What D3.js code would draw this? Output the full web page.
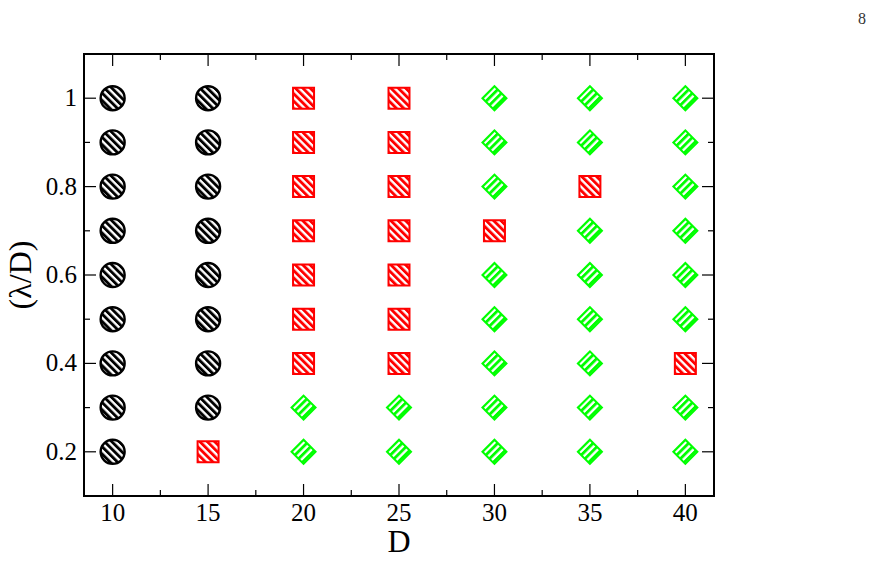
<!DOCTYPE html>
<html>
<head>
<meta charset="utf-8">
<script src="https://cdn.jsdelivr.net/npm/d3@7"></script>
<style>
  body { margin: 0; background: #fff; }
</style>
</head>
<body>
<div class="chart"></div>
<script>
// Grid of D values and lambda/D values
const dValues = [10, 15, 20, 25, 30, 35, 40];
const lambdaValues = [0.2, 0.3, 0.4, 0.5, 0.6, 0.7, 0.8, 0.9, 1.0];

// Phase for each D (columns), listed bottom (0.2) to top (1.0)
// c = black circle, s = red square, d = green diamond
const phases = {
  10: ["c", "c", "c", "c", "c", "c", "c", "c", "c"],
  15: ["s", "c", "c", "c", "c", "c", "c", "c", "c"],
  20: ["d", "d", "s", "s", "s", "s", "s", "s", "s"],
  25: ["d", "d", "s", "s", "s", "s", "s", "s", "s"],
  30: ["d", "d", "d", "d", "d", "s", "d", "d", "d"],
  35: ["d", "d", "d", "d", "d", "d", "s", "d", "d"],
  40: ["d", "d", "s", "d", "d", "d", "d", "d", "d"]
};

const xTicks = [10, 15, 20, 25, 30, 35, 40];
const xMinorTicks = [12.5, 17.5, 22.5, 27.5, 32.5, 37.5];
const yTicks = [0.2, 0.4, 0.6, 0.8, 1];
const yTickLabels = ["0.2", "0.4", "0.6", "0.8", "1"];
const yMinorTicks = [0.3, 0.5, 0.7, 0.9];

const serif = "'Liberation Serif', 'Times New Roman', 'DejaVu Serif', serif";

// flatten into points
const points = [];
dValues.forEach(function(d) {
  phases[d].forEach(function(p, i) {
    points.push({ D: d, L: lambdaValues[i], phase: p });
  });
});

const width = 875;
const height = 580;
const margin = { top: 54, right: 161, bottom: 84, left: 84 };
const innerWidth = width - margin.left - margin.right;
const innerHeight = height - margin.top - margin.bottom;

const svg = d3.select(".chart")
  .append("svg")
  .attr("width", width)
  .attr("height", height);

// stripe patterns
const defs = svg.append("defs");
function stripes(id, color, size, angle) {
  const p = defs.append("pattern")
    .attr("id", id)
    .attr("patternUnits", "userSpaceOnUse")
    .attr("width", size)
    .attr("height", size)
    .attr("patternTransform", `rotate(${angle})`);
  p.append("rect").attr("width", size).attr("height", size).attr("fill", "#fff");
  p.append("rect").attr("width", size * 0.55).attr("height", size).attr("fill", color);
}
stripes("stripeBlack", "#000", 5.2, -45);
stripes("stripeRed", "#ff0000", 5.2, -45);
stripes("stripeGreen", "#00ff00", 5.2, 0);

const chart = svg.append("g")
  .attr("transform", `translate(${margin.left}, ${margin.top})`);

const xScale = d3.scaleLinear().domain([8.5, 41.5]).range([0, innerWidth]);
const yScale = d3.scaleLinear().domain([0.1, 1.1]).range([innerHeight, 0]);

// ticks on all four sides, pointing inward
function tickLines(vals, len, axis) {
  vals.forEach(function(v) {
    if (axis === "x") {
      const x = xScale(v);
      chart.append("line").attr("x1", x).attr("x2", x).attr("y1", innerHeight).attr("y2", innerHeight - len);
      chart.append("line").attr("x1", x).attr("x2", x).attr("y1", 0).attr("y2", len);
    } else {
      const y = yScale(v);
      chart.append("line").attr("x1", 0).attr("x2", len).attr("y1", y).attr("y2", y);
      chart.append("line").attr("x1", innerWidth).attr("x2", innerWidth - len).attr("y1", y).attr("y2", y);
    }
  });
}
tickLines(xTicks, 12, "x");
tickLines(xMinorTicks, 6, "x");
tickLines(yTicks, 12, "y");
tickLines(yMinorTicks, 6, "y");
chart.selectAll("line").attr("stroke", "#000").attr("stroke-width", 1.2);

// frame
chart.append("rect")
  .attr("width", innerWidth)
  .attr("height", innerHeight)
  .attr("fill", "none")
  .attr("stroke", "#000")
  .attr("stroke-width", 2);

// tick labels
chart.selectAll(".xlab")
  .data(xTicks)
  .enter().append("text")
  .attr("x", d => xScale(d))
  .attr("y", innerHeight + 25)
  .attr("text-anchor", "middle")
  .attr("font-family", serif)
  .attr("font-size", 25)
  .text(d => d);

chart.selectAll(".ylab")
  .data(yTicks)
  .enter().append("text")
  .attr("x", -7)
  .attr("y", d => yScale(d) + 8)
  .attr("text-anchor", "end")
  .attr("font-family", serif)
  .attr("font-size", 25)
  .text((d, i) => yTickLabels[i]);

// axis titles
svg.append("text")
  .attr("x", margin.left + innerWidth / 2)
  .attr("y", 552)
  .attr("text-anchor", "middle")
  .attr("font-family", serif)
  .attr("font-size", 32)
  .text("D");

svg.append("text")
  .attr("transform", `translate(31, ${margin.top + innerHeight / 2}) rotate(-90)`)
  .attr("text-anchor", "middle")
  .attr("font-family", serif)
  .attr("font-size", 32)
  .text("(λ/D)");

// page number
svg.append("text")
  .attr("x", 862)
  .attr("y", 24)
  .attr("text-anchor", "middle")
  .attr("font-family", serif)
  .attr("font-size", 16)
  .attr("fill", "#333")
  .text("8");

// markers
const marks = chart.selectAll(".mark")
  .data(points)
  .enter().append("g")
  .attr("transform", d => `translate(${xScale(d.D)}, ${yScale(d.L)})`);

marks.filter(d => d.phase === "c").append("circle")
  .attr("r", 12)
  .attr("fill", "url(#stripeBlack)")
  .attr("stroke", "#000")
  .attr("stroke-width", 2.4);

marks.filter(d => d.phase === "s").append("path")
  .attr("d", d3.symbol().type(d3.symbolSquare).size(21 * 21))
  .attr("fill", "url(#stripeRed)")
  .attr("stroke", "#ff0000")
  .attr("stroke-width", 2);

marks.filter(d => d.phase === "d").append("path")
  .attr("d", d3.symbol().type(d3.symbolSquare).size(17 * 17))
  .attr("transform", "rotate(45)")
  .attr("fill", "url(#stripeGreen)")
  .attr("stroke", "#00ff00")
  .attr("stroke-width", 2);
</script>
</body>
</html>
